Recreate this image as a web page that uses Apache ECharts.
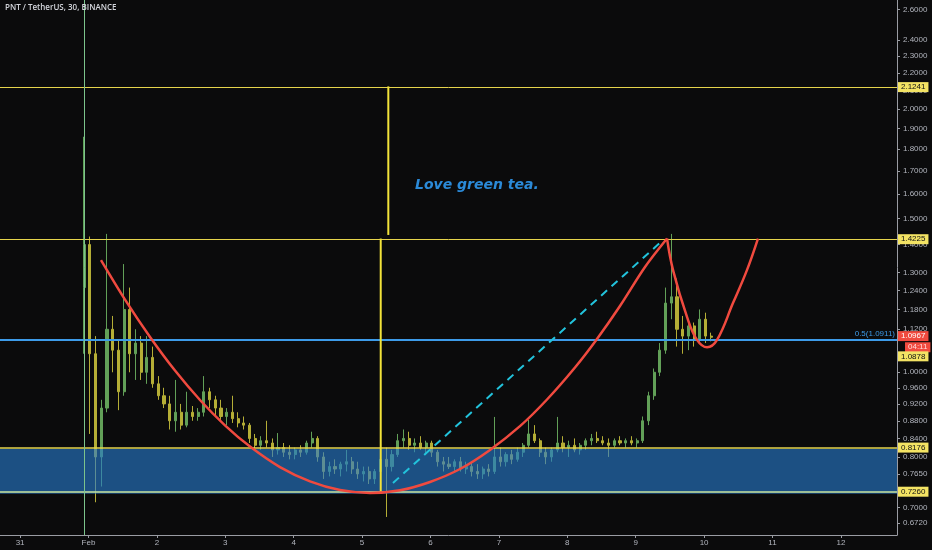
<!DOCTYPE html>
<html>
<head>
<meta charset="utf-8">
<title>PNT / TetherUS, 30, BINANCE</title>
<script src="https://cdn.jsdelivr.net/npm/echarts@6/dist/echarts.min.js"></script>
<style>
    html, body { margin: 0; padding: 0; background: #0b0b0c; }
    #main { width: 932px; height: 550px; }
</style>
</head>
<body>
<div id="main"></div>
<script>
// 2h candles: [open, high, low, close]
var startTime = '2021-01-31T22:30:00';
var stepHours = 2;
var candles = [
    [1.25, 1.86, 1.05, 1.40], [1.40, 1.43, 0.85, 1.05], [1.05, 1.10, 0.71, 0.80], [0.80, 0.93, 0.74, 0.91],
    [0.91, 1.44, 0.90, 1.12], [1.12, 1.16, 1.00, 1.06], [1.06, 1.09, 0.905, 0.95], [0.95, 1.33, 0.94, 1.18],
    [1.18, 1.25, 1.00, 1.05], [1.05, 1.12, 0.98, 1.08], [1.08, 1.10, 0.98, 1.00], [1.00, 1.10, 0.97, 1.04],
    [1.04, 1.07, 0.96, 0.97], [0.97, 0.99, 0.93, 0.94], [0.94, 0.96, 0.91, 0.92], [0.92, 0.94, 0.86, 0.88],
    [0.88, 0.98, 0.855, 0.90], [0.90, 0.92, 0.86, 0.87], [0.87, 0.95, 0.865, 0.90], [0.90, 0.915, 0.88, 0.89],
    [0.89, 0.91, 0.88, 0.90], [0.90, 0.99, 0.89, 0.95], [0.95, 0.96, 0.91, 0.93], [0.93, 0.94, 0.89, 0.91],
    [0.91, 0.93, 0.88, 0.89], [0.89, 0.91, 0.87, 0.90], [0.90, 0.94, 0.875, 0.885], [0.885, 0.90, 0.865, 0.875],
    [0.875, 0.89, 0.86, 0.87], [0.87, 0.875, 0.83, 0.84], [0.84, 0.85, 0.815, 0.825], [0.825, 0.845, 0.815, 0.835],
    [0.835, 0.88, 0.82, 0.83], [0.83, 0.84, 0.80, 0.815], [0.815, 0.852, 0.805, 0.82], [0.82, 0.83, 0.80, 0.81],
    [0.81, 0.825, 0.795, 0.805], [0.805, 0.82, 0.795, 0.815], [0.815, 0.825, 0.80, 0.81], [0.81, 0.835, 0.805, 0.83],
    [0.83, 0.855, 0.82, 0.84], [0.84, 0.845, 0.79, 0.80], [0.80, 0.81, 0.755, 0.77], [0.77, 0.79, 0.76, 0.78],
    [0.78, 0.795, 0.765, 0.775], [0.775, 0.79, 0.76, 0.785], [0.785, 0.815, 0.77, 0.79], [0.79, 0.80, 0.765, 0.775],
    [0.775, 0.79, 0.755, 0.765], [0.765, 0.78, 0.75, 0.77], [0.77, 0.78, 0.745, 0.755], [0.755, 0.775, 0.745, 0.77],
    [0.77, 0.81, 0.765, 0.795], [0.795, 0.82, 0.683, 0.78], [0.78, 0.815, 0.77, 0.805], [0.805, 0.85, 0.80, 0.835],
    [0.835, 0.86, 0.82, 0.84], [0.84, 0.855, 0.815, 0.825], [0.825, 0.84, 0.81, 0.83], [0.83, 0.845, 0.815, 0.82],
    [0.82, 0.835, 0.805, 0.83], [0.83, 0.835, 0.80, 0.81], [0.81, 0.815, 0.78, 0.79], [0.79, 0.80, 0.77, 0.785],
    [0.785, 0.80, 0.775, 0.78], [0.78, 0.795, 0.77, 0.79], [0.79, 0.80, 0.77, 0.775], [0.775, 0.79, 0.765, 0.78],
    [0.78, 0.79, 0.76, 0.77], [0.77, 0.785, 0.755, 0.765], [0.765, 0.78, 0.755, 0.775], [0.775, 0.785, 0.76, 0.77],
    [0.77, 0.889, 0.765, 0.80], [0.80, 0.82, 0.78, 0.79], [0.79, 0.81, 0.78, 0.805], [0.805, 0.815, 0.785, 0.795],
    [0.795, 0.82, 0.79, 0.81], [0.81, 0.83, 0.80, 0.825], [0.825, 0.882, 0.82, 0.85], [0.85, 0.87, 0.83, 0.835],
    [0.835, 0.84, 0.80, 0.81], [0.81, 0.82, 0.785, 0.80], [0.80, 0.82, 0.79, 0.815], [0.815, 0.889, 0.81, 0.83],
    [0.83, 0.845, 0.81, 0.82], [0.82, 0.835, 0.80, 0.825], [0.825, 0.84, 0.81, 0.815], [0.815, 0.83, 0.805, 0.825],
    [0.825, 0.84, 0.815, 0.835], [0.835, 0.85, 0.825, 0.84], [0.84, 0.855, 0.83, 0.835], [0.835, 0.845, 0.825, 0.83],
    [0.83, 0.84, 0.80, 0.825], [0.825, 0.84, 0.82, 0.835], [0.835, 0.845, 0.825, 0.83], [0.83, 0.84, 0.82, 0.835],
    [0.835, 0.845, 0.825, 0.83], [0.83, 0.84, 0.82, 0.835], [0.835, 0.89, 0.83, 0.88], [0.88, 0.95, 0.87, 0.94],
    [0.94, 1.01, 0.93, 1.00], [1.00, 1.08, 0.99, 1.06], [1.06, 1.25, 1.05, 1.20], [1.20, 1.44, 1.15, 1.22],
    [1.22, 1.28, 1.07, 1.12], [1.12, 1.16, 1.05, 1.10], [1.10, 1.15, 1.06, 1.13], [1.13, 1.14, 1.07, 1.09],
    [1.09, 1.18, 1.08, 1.15], [1.15, 1.17, 1.08, 1.10], [1.10, 1.11, 1.085, 1.0967]
];

var priceTicks = [0.672, 0.70, 0.765, 0.80, 0.84, 0.88, 0.92, 0.96, 1.00, 1.12, 1.18, 1.24, 1.30,
    1.40, 1.50, 1.60, 1.70, 1.80, 1.90, 2.00, 2.10, 2.20, 2.30, 2.40, 2.60];

var resistances = [2.1241, 1.4225];
var zoneTop = 0.8176;
var zoneBottom = 0.7260;
var fibLevel = 1.0911;
var lastPrice = 1.0967;
var countdown = '04:11';
var prevClose = 1.0878;
var listingTime = '2021-01-31 22:30';

// drawings
var cupCurve = [
    ['2021-02-01 04:23', 1.344], ['2021-02-01 12:49', 1.211], ['2021-02-01 21:35', 1.0975],
    ['2021-02-02 06:21', 1.0045], ['2021-02-02 15:07', 0.9296], ['2021-02-02 23:53', 0.8696],
    ['2021-02-03 08:40', 0.8222], ['2021-02-03 19:11', 0.7789], ['2021-02-04 05:43', 0.7501],
    ['2021-02-04 16:15', 0.7332], ['2021-02-05 02:46', 0.7276], ['2021-02-05 13:18', 0.7328],
    ['2021-02-05 23:49', 0.749], ['2021-02-06 10:21', 0.775], ['2021-02-06 20:53', 0.815],
    ['2021-02-07 07:24', 0.8676], ['2021-02-07 16:53', 0.9308], ['2021-02-08 02:42', 1.0127],
    ['2021-02-08 10:25', 1.0917], ['2021-02-08 18:29', 1.1909], ['2021-02-09 03:16', 1.3198],
    ['2021-02-09 10:59', 1.4225]
];
var handleCurve = [
    ['2021-02-09 10:59', 1.4225], ['2021-02-09 13:06', 1.309], ['2021-02-09 18:00', 1.157],
    ['2021-02-09 21:31', 1.089], ['2021-02-10 01:02', 1.068], ['2021-02-10 04:32', 1.089],
    ['2021-02-10 10:08', 1.200], ['2021-02-10 15:02', 1.309], ['2021-02-10 18:54', 1.4225]
];
var trendLine = [['2021-02-05 10:50', 0.747], ['2021-02-09 09:36', 1.417]];
var upperStick = [['2021-02-05 09:12', 2.1241], ['2021-02-05 09:12', 1.436]];
var lowerStick = [['2021-02-05 06:32', 1.4225], ['2021-02-05 06:32', 0.726]];

var xMin = '2021-01-30 16:57';
var xMax = '2021-02-12 19:41';
</script>
<script>
(function () {
    var dom = document.getElementById('main');
    var myChart = echarts.init(dom);

    var yellow = '#f3e364';
    var red = '#f04a3f';
    var axisFont = 'Liberation Sans';

    var t0 = new Date(startTime).getTime();
    var candleData = candles.map(function (c, i) {
        return [t0 + i * stepHours * 3600 * 1000, c[0], c[3], c[2], c[1]];
    });

    function priceTag(bg, fg, value) {
        return {
            show: true,
            position: 'end',
            distance: 1,
            formatter: value.toFixed(4),
            backgroundColor: bg,
            color: fg,
            fontSize: 8,
            fontFamily: axisFont,
            padding: [1, 3, 1, 3]
        };
    }

    var option = {
        backgroundColor: '#0b0b0c',
        animation: false,
        title: {
            text: 'PNT / TetherUS, 30, BINANCE',
            left: 5,
            top: 4,
            padding: 0,
            textStyle: { color: '#d4d6dc', fontSize: 8, fontWeight: 600, fontFamily: 'Open Sans' }
        },
        grid: { left: 0, right: 35, top: 0, bottom: 15 },
        xAxis: {
            type: 'time',
            min: xMin,
            max: xMax,
            minInterval: 24 * 3600 * 1000,
            maxInterval: 24 * 3600 * 1000,
            splitLine: { show: false },
            axisLine: { lineStyle: { color: '#9a9ca3' } },
            axisTick: { length: 3, lineStyle: { color: '#9a9ca3' } },
            axisLabel: {
                color: '#b2b5be',
                fontSize: 8,
                fontFamily: axisFont,
                margin: 4,
                showMinLabel: false,
                showMaxLabel: false,
                formatter: function (v) {
                    var d = new Date(v);
                    return d.getDate() === 1 ? 'Feb' : String(d.getDate());
                }
            }
        },
        yAxis: {
            type: 'log',
            position: 'right',
            min: 0.6513,
            max: 2.667,
            splitLine: { show: false },
            axisLine: { show: true, lineStyle: { color: '#9a9ca3' } },
            axisTick: { show: true, length: 3, lineStyle: { color: '#9a9ca3' }, customValues: priceTicks },
            axisLabel: {
                color: '#b2b5be',
                fontSize: 8,
                fontFamily: axisFont,
                margin: 6,
                customValues: priceTicks,
                formatter: function (v) { return Number(v).toFixed(4); }
            }
        },
        graphic: [{
            type: 'text',
            left: 415,
            top: 178,
            style: {
                text: 'Love green tea.',
                fill: '#2b8ad8',
                font: 'italic bold 14px "DejaVu Sans"'
            }
        }],
        series: [
            {
                name: 'PNTUSDT',
                type: 'candlestick',
                z: 1,
                barWidth: 2.6,
                data: candleData,
                itemStyle: {
                    color: '#62a058',
                    color0: '#b5ae36',
                    borderColor: '#62a058',
                    borderColor0: '#b5ae36',
                    borderWidth: 1
                }
            },
            {
                name: 'zone',
                type: 'line',
                z: 3,
                data: [],
                markArea: {
                    silent: true,
                    z: 3,
                    itemStyle: { color: 'rgba(38,122,205,0.62)' },
                    data: [[{ yAxis: zoneTop }, { yAxis: zoneBottom }]]
                },
                markLine: {
                    silent: true,
                    symbol: ['none', 'none'],
                    data: [
                        { yAxis: zoneTop, lineStyle: { color: '#e6d44c', width: 1.5, type: 'solid' }, label: priceTag(yellow, '#111', zoneTop) },
                        { yAxis: zoneBottom, lineStyle: { color: '#c9e39e', width: 1.5, type: 'solid' }, label: priceTag(yellow, '#111', zoneBottom) }
                    ]
                }
            },
            {
                name: 'levels',
                type: 'line',
                z: 4,
                data: [],
                markLine: {
                    silent: true,
                    symbol: ['none', 'none'],
                    data: resistances.map(function (v) {
                        return { yAxis: v, lineStyle: { color: '#e6d44c', width: 1, type: 'solid' }, label: priceTag(yellow, '#111', v) };
                    }).concat([
                        {
                            yAxis: fibLevel,
                            lineStyle: { color: '#3d9be9', width: 2, type: 'solid' },
                            label: {
                                show: true, position: 'insideEndTop', distance: 2,
                                formatter: '0.5(' + fibLevel.toFixed(4) + ')',
                                color: '#3d9be9', fontSize: 8, fontFamily: axisFont
                            }
                        },
                        { yAxis: lastPrice, lineStyle: { color: 'rgba(0,0,0,0)', width: 0 }, label: priceTag(red, '#fff', lastPrice) },
                        { xAxis: listingTime, lineStyle: { color: '#7cc48c', width: 1, type: 'solid' }, label: { show: false } }
                    ])
                },
                markPoint: {
                    silent: true,
                    symbolSize: 0,
                    data: [
                        {
                            coord: [xMax, lastPrice],
                            label: {
                                show: true, position: 'right', distance: 1, offset: [7, 10],
                                formatter: countdown, backgroundColor: red, color: '#ffdcdc',
                                fontSize: 8, fontFamily: axisFont, padding: [1, 3, 1, 3]
                            }
                        },
                        {
                            coord: [xMax, prevClose],
                            label: {
                                show: true, position: 'right', distance: 1, offset: [0, 16],
                                formatter: prevClose.toFixed(4), backgroundColor: yellow, color: '#111',
                                fontSize: 8, fontFamily: axisFont, padding: [1, 3, 1, 3]
                            }
                        }
                    ]
                }
            },
            {
                name: 'upper stick',
                type: 'line',
                z: 5,
                symbol: 'none',
                data: upperStick,
                lineStyle: { color: '#f2e33a', width: 2 }
            },
            {
                name: 'lower stick',
                type: 'line',
                z: 5,
                symbol: 'none',
                data: lowerStick,
                lineStyle: { color: '#f2e33a', width: 2 }
            },
            {
                name: 'trend',
                type: 'line',
                z: 6,
                symbol: 'none',
                data: trendLine,
                lineStyle: { color: '#22c3dc', width: 2, type: [8, 6] }
            },
            {
                name: 'cup',
                type: 'line',
                z: 7,
                symbol: 'none',
                smooth: 0.3,
                data: cupCurve,
                lineStyle: { color: red, width: 2.5 }
            },
            {
                name: 'handle',
                type: 'line',
                z: 7,
                symbol: 'none',
                smooth: 0.4,
                data: handleCurve,
                lineStyle: { color: red, width: 2.5 }
            }
        ]
    };

    if (option && typeof option === 'object') {
        myChart.setOption(option, true);
    }
})();
</script>
</body>
</html>
